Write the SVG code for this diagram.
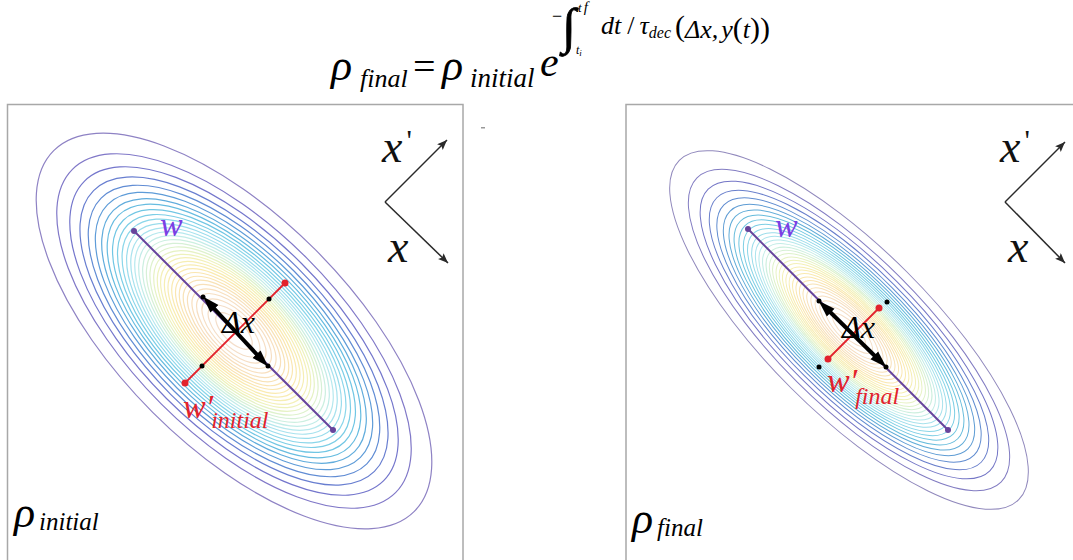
<svg xmlns="http://www.w3.org/2000/svg" width="1073" height="560" viewBox="0 0 1073 560">
<style>
.it{font-style:italic}
.rm{font-style:normal}
.panel{fill:#fff;stroke:#a8a8a8;stroke-width:1.5}
.c{fill:none}
.pl{stroke:#66449c;stroke-width:2;fill:none}
.rl{stroke:#e2222c;stroke-width:1.8;fill:none}
.ax{stroke:#2a2a2a;stroke-width:1.5;fill:none}
.dx{stroke:#000;stroke-width:4;fill:none}
</style>
<defs>
<marker id="ah" markerUnits="userSpaceOnUse" markerWidth="18" markerHeight="12" refX="8" refY="6" orient="auto-start-reverse"><path d="M0,0.5 L17,6 L0,11.5 z" fill="#000"/></marker>
<marker id="axh" markerUnits="userSpaceOnUse" markerWidth="12" markerHeight="10" refX="10" refY="4" orient="auto"><path d="M0,0 L10,4 L0,8 L2,4 z" fill="#2a2a2a"/></marker>
</defs>
<rect width="1073" height="560" fill="#fff"/>

<g id="formula" font-family="Liberation Serif, DejaVu Serif, Times New Roman, serif">
<text class="it" x="331" y="80" font-size="44">ρ</text>
<text class="it" x="360" y="87" font-size="26">final</text>
<text class="rm" x="413" y="80" font-size="40">=</text>
<text class="it" x="442" y="80" font-size="44">ρ</text>
<text class="it" x="470" y="87" font-size="27">initial</text>
<text class="it" x="540" y="76" font-size="42">e</text>
<text class="rm" x="552" y="22" font-size="18">−</text>
<text class="rm" x="562" y="43" font-size="50" stroke="#000" stroke-width="0.8">∫</text>
<text class="it" x="578" y="12" font-size="13">t<tspan font-size="15" dx="2">f</tspan></text>
<text class="it" x="576" y="54" font-size="12">t<tspan font-size="9" dy="2">i</tspan></text>
<text class="it" x="601" y="34" font-size="26">dt<tspan class="rm" dx="6">/</tspan><tspan dx="5">τ</tspan><tspan font-size="16" dy="4">dec</tspan><tspan class="rm" font-size="30" dy="-2" dx="4">(</tspan><tspan dy="2">Δx,</tspan><tspan dx="3">y</tspan><tspan class="rm" font-size="30">(</tspan>t<tspan class="rm" font-size="30">))</tspan></text>
</g>

<rect x="481" y="127" width="4" height="1.5" fill="#999"/>

<g id="panel-initial">
<rect class="panel" x="7.5" y="104.5" width="455.5" height="470"/>
<g id="contours-initial" class="c" stroke-width="1.2" transform="translate(234,331) rotate(45)">
<ellipse rx="255" ry="115" stroke="#8e82c4"/>
<ellipse rx="228.5" ry="103" stroke="#8078c8"/>
<ellipse rx="211.7" ry="95.5" stroke="#7476cc"/>
<ellipse rx="198.6" ry="89.6" stroke="#687ed0"/>
<ellipse rx="187.9" ry="84.8" stroke="#608cd4"/>
<ellipse rx="178.8" ry="80.6" stroke="#5e9cd8"/>
<ellipse rx="170.6" ry="76.9" stroke="#60acdc"/>
<ellipse rx="163.5" ry="73.7" stroke="#66bce0"/>
<ellipse rx="156.6" ry="70.6" stroke="#70c6e4"/>
<ellipse rx="150.2" ry="67.7" stroke="#7ccee6"/>
<ellipse rx="144.3" ry="65.1" stroke="#8ad6ea"/>
<ellipse rx="138.5" ry="62.4" stroke="#9adcec"/>
<ellipse rx="133.1" ry="60" stroke="#a8e2ee"/>
<ellipse rx="128" ry="57.7" stroke="#b6e8ee"/>
<ellipse rx="122.9" ry="55.4" stroke="#c2ece8"/>
<ellipse rx="117.8" ry="53.1" stroke="#ccefe0"/>
<ellipse rx="113" ry="50.9" stroke="#d6f0d6"/>
<ellipse rx="108.4" ry="48.9" stroke="#def2cc"/>
<ellipse rx="103.5" ry="46.7" stroke="#e6f2c4"/>
<ellipse rx="98.9" ry="44.6" stroke="#eef2bc"/>
<ellipse rx="94.4" ry="42.6" stroke="#f4f0b8"/>
<ellipse rx="89.5" ry="40.4" stroke="#f6eeb4"/>
<ellipse rx="84.9" ry="38.3" stroke="#f8ecb2"/>
<ellipse rx="80.1" ry="36.1" stroke="#faeab0"/>
<ellipse rx="75.2" ry="33.9" stroke="#fae6b0"/>
<ellipse rx="70.4" ry="31.7" stroke="#fae4b2"/>
<ellipse rx="65.3" ry="29.4" stroke="#f8e2b6"/>
<ellipse rx="59.9" ry="27" stroke="#f8e0ba"/>
<ellipse rx="54.1" ry="24.4" stroke="#f8dfbe"/>
<ellipse rx="48.2" ry="21.7" stroke="#f6dec2"/>
<ellipse rx="41.3" ry="18.6" stroke="#f6dec4"/>
<ellipse rx="33.4" ry="15.1" stroke="#f4dec8"/>
<ellipse rx="23.5" ry="10.6" stroke="#f4deca"/>
</g>
<text class="it" x="14" y="527" font-size="44" font-family="Liberation Serif, DejaVu Serif, Times New Roman, serif">ρ</text>
<text class="it" x="39" y="530" font-size="25" font-family="Liberation Serif, DejaVu Serif, Times New Roman, serif">initial</text>
</g>

<g id="panel-final">
<rect class="panel" x="626" y="104.5" width="460" height="470"/>
<g id="contours-final" class="c" stroke-width="1" transform="translate(849,330) rotate(45)">
<ellipse rx="240" ry="82" stroke="#9088bc"/>
<ellipse rx="215" ry="73.5" stroke="#827cc2"/>
<ellipse rx="199.2" ry="68.1" stroke="#7476c6"/>
<ellipse rx="187" ry="63.9" stroke="#687ecb"/>
<ellipse rx="176.9" ry="60.4" stroke="#608cd0"/>
<ellipse rx="168.2" ry="57.5" stroke="#5e9cd4"/>
<ellipse rx="160.6" ry="54.9" stroke="#60acd8"/>
<ellipse rx="153.8" ry="52.6" stroke="#66bcdc"/>
<ellipse rx="147.4" ry="50.3" stroke="#70c6e0"/>
<ellipse rx="141.4" ry="48.3" stroke="#7ccee4"/>
<ellipse rx="135.8" ry="46.4" stroke="#8ad6e8"/>
<ellipse rx="130.3" ry="44.5" stroke="#9adcea"/>
<ellipse rx="125.3" ry="42.8" stroke="#a8e2ec"/>
<ellipse rx="120.5" ry="41.2" stroke="#b6e8ec"/>
<ellipse rx="115.7" ry="39.5" stroke="#c2ece6"/>
<ellipse rx="110.9" ry="37.9" stroke="#ccefde"/>
<ellipse rx="106.3" ry="36.3" stroke="#d6f0d4"/>
<ellipse rx="102" ry="34.9" stroke="#def2ca"/>
<ellipse rx="97.4" ry="33.3" stroke="#e6f2c2"/>
<ellipse rx="93.1" ry="31.8" stroke="#eef2ba"/>
<ellipse rx="88.8" ry="30.3" stroke="#f4f0b6"/>
<ellipse rx="84.2" ry="28.8" stroke="#f6eeb2"/>
<ellipse rx="79.9" ry="27.3" stroke="#f8ecb0"/>
<ellipse rx="75.4" ry="25.7" stroke="#faeaae"/>
<ellipse rx="70.8" ry="24.2" stroke="#fae6ae"/>
<ellipse rx="66.2" ry="22.6" stroke="#fae4b0"/>
<ellipse rx="61.4" ry="21" stroke="#f8e2b4"/>
<ellipse rx="56.4" ry="19.3" stroke="#f8e0b8"/>
<ellipse rx="50.9" ry="17.4" stroke="#f8dfbc"/>
<ellipse rx="45.4" ry="15.5" stroke="#f6dec0"/>
<ellipse rx="38.9" ry="13.3" stroke="#f6dec2"/>
<ellipse rx="31.4" ry="10.7" stroke="#f4dec6"/>
<ellipse rx="22.1" ry="7.5" stroke="#f4dec8"/>
</g>
<text class="it" x="632" y="533" font-size="44" font-family="Liberation Serif, DejaVu Serif, Times New Roman, serif">ρ</text>
<text class="it" x="657" y="536" font-size="25" font-family="Liberation Serif, DejaVu Serif, Times New Roman, serif">final</text>
</g>

<g id="connectors">
<line class="pl" x1="134" y1="231" x2="333" y2="430"/>
<line class="rl" x1="185" y1="383" x2="285" y2="283"/>
<line class="dx" x1="209" y1="303" x2="262" y2="360" marker-start="url(#ah)" marker-end="url(#ah)"/>
<line class="ax" x1="385" y1="202" x2="447" y2="140" marker-end="url(#axh)"/>
<line class="ax" x1="385" y1="202" x2="448" y2="263" marker-end="url(#axh)"/>
<line class="pl" x1="748" y1="229" x2="948" y2="430"/>
<line class="rl" x1="828" y1="359" x2="879" y2="308"/>
<line class="dx" x1="825" y1="307" x2="880" y2="361" marker-start="url(#ah)" marker-end="url(#ah)"/>
<line class="ax" x1="1005" y1="202" x2="1065" y2="142" marker-end="url(#axh)"/>
<line class="ax" x1="1005" y1="202" x2="1065" y2="263" marker-end="url(#axh)"/>
</g>

<g id="points">
<circle cx="134" cy="231" r="3" fill="#66449c"/>
<circle cx="333" cy="430" r="3" fill="#66449c"/>
<circle cx="185" cy="383" r="3.5" fill="#e2222c"/>
<circle cx="285" cy="283" r="3.5" fill="#e2222c"/>
<circle cx="269" cy="299" r="2.5" fill="#000"/>
<circle cx="202" cy="366" r="2.5" fill="#000"/>
<circle cx="203" cy="297" r="2.5" fill="#000"/>
<circle cx="268" cy="366" r="2.5" fill="#000"/>
<circle cx="748" cy="229" r="3" fill="#66449c"/>
<circle cx="948" cy="430" r="3" fill="#66449c"/>
<circle cx="828" cy="359" r="3.5" fill="#e2222c"/>
<circle cx="879" cy="308" r="3.5" fill="#e2222c"/>
<circle cx="887" cy="302" r="2.5" fill="#000"/>
<circle cx="819" cy="367" r="2.5" fill="#000"/>
<circle cx="819" cy="301" r="2.5" fill="#000"/>
<circle cx="886" cy="367" r="2.5" fill="#000"/>
</g>

<g id="labels" font-family="Liberation Serif, DejaVu Serif, Times New Roman, serif">
<text class="it" x="160" y="236" font-size="34" fill="#7b3fe4">w</text>
<text class="it" x="222" y="333" font-size="32" fill="#000">Δx</text>
<text class="it" x="183" y="418" font-size="34" fill="#e2222c">w′<tspan font-size="24" dy="10" dx="-2">initial</tspan></text>
<text class="it" x="382" y="162" font-size="46" fill="#111">x<tspan class="rm" font-size="30" dy="-12" dx="4">'</tspan></text>
<text class="it" x="388" y="262" font-size="46" fill="#111">x</text>
<text class="it" x="775" y="237" font-size="34" fill="#7b3fe4">w</text>
<text class="it" x="842" y="338" font-size="32" fill="#000">Δx</text>
<text class="it" x="827" y="392" font-size="34" fill="#e2222c">w′<tspan font-size="24" dy="12" dx="-2">final</tspan></text>
<text class="it" x="1000" y="162" font-size="46" fill="#111">x<tspan class="rm" font-size="30" dy="-12" dx="4">'</tspan></text>
<text class="it" x="1008" y="262" font-size="46" fill="#111">x</text>
</g>
</svg>
